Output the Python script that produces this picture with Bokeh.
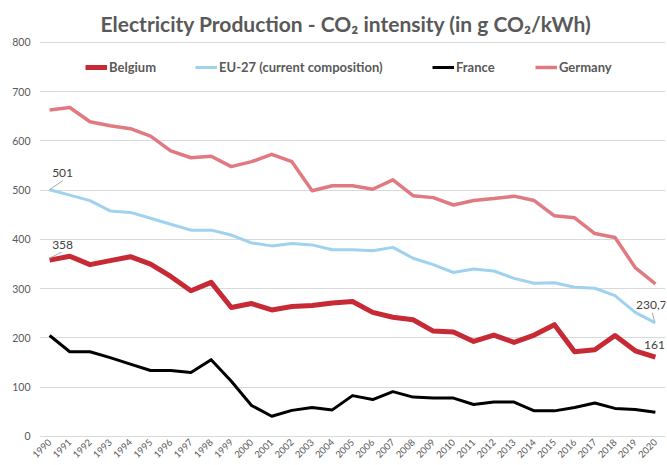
import math
from bokeh.plotting import figure
from bokeh.models import Range1d, FixedTicker, Legend, LegendItem, ColumnDataSource
from bokeh.core.properties import value
from bokeh.embed import file_html
from bokeh.resources import INLINE

years = list(range(1990, 2021))
belgium = [358, 366, 349, 357, 365, 350, 325, 296, 313, 262, 270, 257, 264, 266, 271, 274,
           252, 242, 237, 214, 212, 193, 206, 191, 206, 227, 172, 176, 205, 174, 161]
eu27 = [501, 490, 479, 458, 455, 443, 431, 419, 419, 409, 393, 387, 392, 389, 379, 379,
        377, 384, 362, 349, 333, 340, 336, 321, 311, 312, 303, 301, 286, 252, 230.7]
france = [205, 172, 172, 160, 147, 134, 134, 130, 156, 112, 63, 41, 53, 59, 54, 83,
          75, 91, 80, 78, 78, 65, 70, 70, 52, 52, 59, 68, 57, 55, 49]
germany = [663, 668, 639, 631, 625, 610, 580, 566, 569, 548, 558, 573, 558, 499, 509, 509,
           502, 521, 489, 485, 470, 479, 483, 488, 479, 448, 444, 412, 404, 343, 310]
y_ticks = [0, 100, 200, 300, 400, 500, 600, 700, 800]
series_names = ["Belgium", "EU-27 (current composition)", "France", "Germany"]

ann_year = [1990, 1990, 2020, 2020]
ann_val = [501, 358, 230.7, 161]
ann_text = ["501", "358", "230,7", "161"]

TITLE = "Electricity Production - CO\u2082 intensity (in g CO\u2082/kWh)"
GRAY = "#595959"

p = figure(width=667, height=465, output_backend="svg", toolbar_location=None,
           x_range=Range1d(1989.5, 2020.5), y_range=Range1d(-4.1, 808.1),
           min_border_left=39, min_border_right=2, min_border_top=38, min_border_bottom=27)
p.outline_line_color = None
p.background_fill_color = "white"
p.border_fill_color = "white"

p.title.text = TITLE
p.title.align = "left"
p.title.text_font = "Lato"
p.title.text_font_size = "21px"
p.title.text_font_style = "bold"
p.title.text_color = GRAY
p.title.offset = 61
p.title.standoff = 6

p.xgrid.grid_line_color = None
p.ygrid.grid_line_color = "#d9d9d9"
p.ygrid.grid_line_width = 1

p.xaxis.ticker = FixedTicker(ticks=years)
p.xaxis.major_label_orientation = math.pi / 4
p.yaxis.ticker = FixedTicker(ticks=y_ticks)
for ax in (p.xaxis, p.yaxis):
    ax.axis_line_color = None
    ax.major_tick_line_color = None
    ax.minor_tick_line_color = None
    ax.major_tick_out = 0
    ax.major_tick_in = 0
    ax.minor_tick_out = 0
    ax.major_label_text_font = "Lato"
    ax.major_label_text_color = GRAY
p.xaxis.major_label_text_font_size = "9.5px"
p.yaxis.major_label_text_font_size = "10.5px"
p.xaxis.major_label_standoff = 2
p.yaxis.major_label_standoff = 9

r_be = p.line(years, belgium, line_color="#c72a35", line_width=5, line_join="round")
r_eu = p.line(years, eu27, line_color="#9fd2ef", line_width=3, line_join="round")
r_fr = p.line(years, france, line_color="#000000", line_width=3, line_join="round")
r_de = p.line(years, germany, line_color="#e07a80", line_width=3.5, line_join="round")

# annotations
px_per_year = 20.2
px_per_unit = 0.4925
dx = [13, 13, -4, -1]
dy = [-17, -15, -18, -12]
src = ColumnDataSource(dict(x=ann_year, y=ann_val, t=ann_text, dx=dx, dy=dy))
p.text(x="x", y="y", text="t", x_offset="dx", y_offset="dy", source=src,
       text_font=value("Lato"), text_font_size="12px", text_color="#404040",
       text_align="center", text_baseline="middle")
lead_x0 = [ann_year[0], ann_year[1], ann_year[2] - 1 / px_per_year]
lead_y0 = [ann_val[0], ann_val[1] + 2 / px_per_unit, ann_val[2] + 2 / px_per_unit]
lead_x1 = [ann_year[0] + 13 / px_per_year, ann_year[1] + 12 / px_per_year, ann_year[2] - 3 / px_per_year]
lead_y1 = [ann_val[0] + 9 / px_per_unit, ann_val[1] + 8 / px_per_unit, ann_val[2] + 10 / px_per_unit]
p.segment(lead_x0, lead_y0, lead_x1, lead_y1, line_color="#a6a6a6", line_width=1)

# one legend per entry, placed along a row (offsets from the frame's left edge)
legend_x = [46, 156, 393, 496]
for name, r, lx in zip(series_names, [r_be, r_eu, r_fr, r_de], legend_x):
    lg = Legend(items=[LegendItem(label=name, renderers=[r])],
                orientation="horizontal", location=(lx, 363),
                padding=0, margin=0, spacing=0, glyph_width=22, glyph_height=14,
                label_standoff=2, label_text_font="Lato", label_text_font_size="13px",
                label_text_font_style="bold", label_text_color=GRAY,
                border_line_color=None, background_fill_alpha=0)
    p.add_layout(lg, "center")

open("out.html", "w").write(file_html(p, INLINE))
